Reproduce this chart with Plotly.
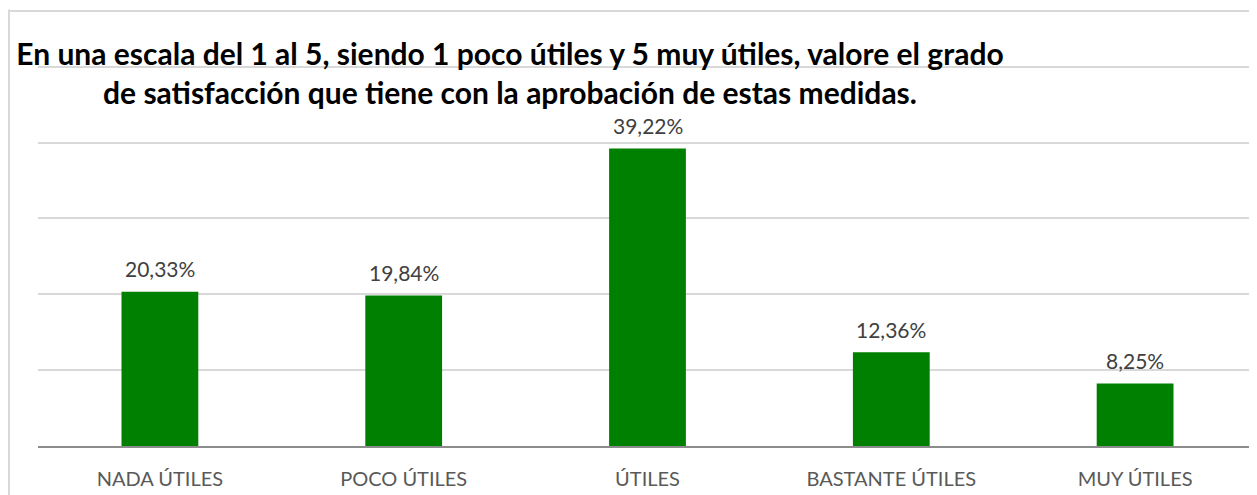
import plotly.graph_objects as go

categories = ["NADA ÚTILES", "POCO ÚTILES", "ÚTILES", "BASTANTE ÚTILES", "MUY ÚTILES"]
values = [20.33, 19.84, 39.22, 12.36, 8.25]
labels = [f"{v:.2f}".replace(".", ",") + "%" for v in values]
title_text = ("En una escala del 1 al 5, siendo 1 poco útiles y 5 muy útiles, valore el grado<br>"
              "de satisfacción que tiene con la aprobación de estas medidas.")

W, H = 1257, 495
ml, mr, mt, mb = 30, 8, 55, 57
pw, ph = W - ml - mr, H - mt - mb
FONT = "Lato, Open Sans, sans-serif"

fig = go.Figure()
fig.add_trace(go.Bar(x=categories, y=values, marker=dict(color="#008000", line=dict(width=0)),
                     hoverinfo="skip"))

for c, v, t in zip(categories, values, labels):
    fig.add_annotation(x=c, y=v, text=t, showarrow=False, yshift=23,
                       font=dict(family=FONT, size=21, color="#404040"))

bx = (1 - ml) / pw
fig.add_shape(type="line", xref="paper", yref="paper", x0=bx, x1=bx, y0=-0.3, y1=1.14,
              line=dict(color="#d9d9d9", width=2), layer="above")
fig.add_shape(type="line", xref="paper", yref="paper", ysizemode="pixel", yanchor=1,
              x0=bx, x1=1.05, y0=52, y1=52,
              line=dict(color="#d9d9d9", width=2), layer="above")

fig.update_layout(
    width=W, height=H,
    margin=dict(l=ml, r=mr, t=mt, b=mb),
    paper_bgcolor="white", plot_bgcolor="white",
    bargap=0.685,
    showlegend=False,
    title=dict(text=title_text, x=502 / W, xanchor="center", y=1 - 56.5 / H, yanchor="middle",
               font=dict(family=FONT, size=30, color="black", weight="bold")),
    xaxis=dict(showline=True, linecolor="#8c8c8c", linewidth=2, ticks="", ticklabelstandoff=14,
               tickfont=dict(family=FONT, size=20, color="#595959"),
               showgrid=False),
    yaxis=dict(range=[0, 50.5], tickvals=[10, 20, 30, 40, 50], showticklabels=False, showgrid=True,
               gridcolor="#d9d9d9", gridwidth=2, zeroline=False, fixedrange=True),
)

fig.write_html("out.html")
